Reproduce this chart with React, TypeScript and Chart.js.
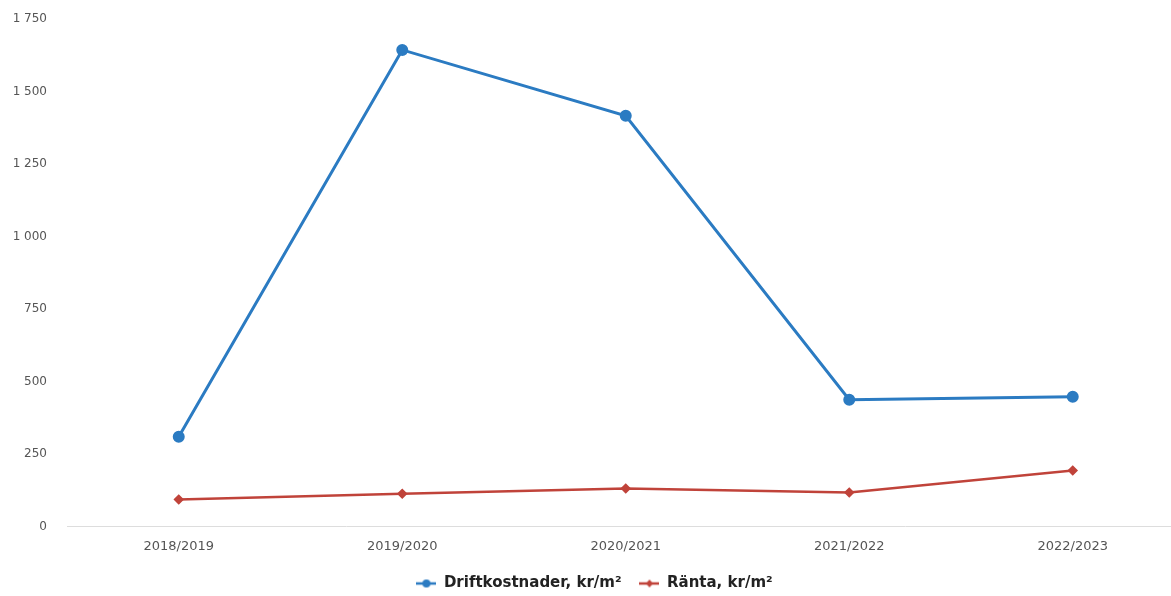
import React, { useEffect, useRef } from "react";
import { Chart, registerables } from "chart.js";

Chart.register(...registerables);

const categories = ["2018/2019", "2019/2020", "2020/2021", "2021/2022", "2022/2023"];
const driftkostnader = [309, 1644, 1417, 437, 447];
const ranta = [93, 113, 131, 117, 193];
const seriesNames = ["Driftkostnader, kr/m²", "Ränta, kr/m²"];
const yMax = 1750;
const yStep = 250;

const BLUE = "#2b7bc2";
const RED = "#c0433a";

function legendIcon(color: string, kind: "circle" | "diamond") {
  const c = document.createElement("canvas");
  c.width = 20;
  c.height = 10;
  const ctx = c.getContext("2d")!;
  ctx.strokeStyle = color;
  ctx.lineWidth = 2.5;
  ctx.beginPath();
  ctx.moveTo(0, 5);
  ctx.lineTo(20, 5);
  ctx.stroke();
  ctx.fillStyle = color;
  ctx.beginPath();
  if (kind === "circle") {
    ctx.arc(10, 5, 4, 0, Math.PI * 2);
  } else {
    ctx.moveTo(10, 1);
    ctx.lineTo(13.5, 5);
    ctx.lineTo(10, 9);
    ctx.lineTo(6.5, 5);
    ctx.closePath();
  }
  ctx.fill();
  return c;
}

export default function App() {
  const ref = useRef<HTMLCanvasElement>(null);
  useEffect(() => {
    const icons = [legendIcon(BLUE, "circle"), legendIcon(RED, "diamond")];
    const chart = new Chart(ref.current!, {
      type: "line",
      data: {
        labels: categories,
        datasets: [
          {
            label: seriesNames[0],
            data: driftkostnader,
            borderColor: BLUE,
            backgroundColor: BLUE,
            borderWidth: 3,
            pointRadius: 4.5,
            pointHoverRadius: 4.5,
            pointStyle: "circle",
            tension: 0,
          },
          {
            label: seriesNames[1],
            data: ranta,
            borderColor: RED,
            backgroundColor: RED,
            borderWidth: 2.5,
            pointRadius: 3.5,
            pointHoverRadius: 3.5,
            pointStyle: "rectRot",
            tension: 0,
          },
        ],
      },
      options: {
        animation: false,
        responsive: true,
        maintainAspectRatio: false,
        layout: { padding: { left: 0, right: 3, top: -4, bottom: -5 } },
        plugins: {
          tooltip: { enabled: false },
          legend: {
            position: "bottom",
            labels: {
              usePointStyle: true,
              pointStyleWidth: 20,
              color: "#222",
              padding: 18,
              font: { family: "DejaVu Sans", size: 15, weight: "bold" },
              generateLabels: (ch: any) => {
                const items = Chart.defaults.plugins.legend.labels.generateLabels(ch);
                items.forEach((it: any, i: number) => {
                  it.pointStyle = icons[i];
                });
                return items;
              },
            },
          },
        },
        scales: {
          x: {
            offset: true,
            grid: { display: false },
            border: { display: true, color: "#ddd", dash: [4, 3] },
            ticks: {
              color: "#555",
              font: { family: "DejaVu Sans", size: 13 },
              padding: 4,
            },
          },
          y: {
            min: 0,
            max: yMax,
            grid: { display: false },
            border: { display: false },
            afterFit: (s: any) => {
              s.width = 67;
            },
            ticks: {
              stepSize: yStep,
              color: "#555",
              padding: 12,
              font: { family: "DejaVu Sans", size: 12 },
              callback: (v: any) => {
                const s = String(v);
                return s.length > 3 ? s.slice(0, s.length - 3) + " " + s.slice(-3) : s;
              },
            },
          },
        },
      },
    });
    return () => chart.destroy();
  }, []);
  return (
    <div
      style={{
        position: "fixed",
        left: 0,
        top: 0,
        width: 1171,
        height: 596,
        overflow: "hidden",
        background: "#fff",
      }}
    >
      <div style={{ position: "absolute", left: 0, top: 0, width: 1192, height: 596 }}>
        <canvas ref={ref} />
      </div>
    </div>
  );
}
